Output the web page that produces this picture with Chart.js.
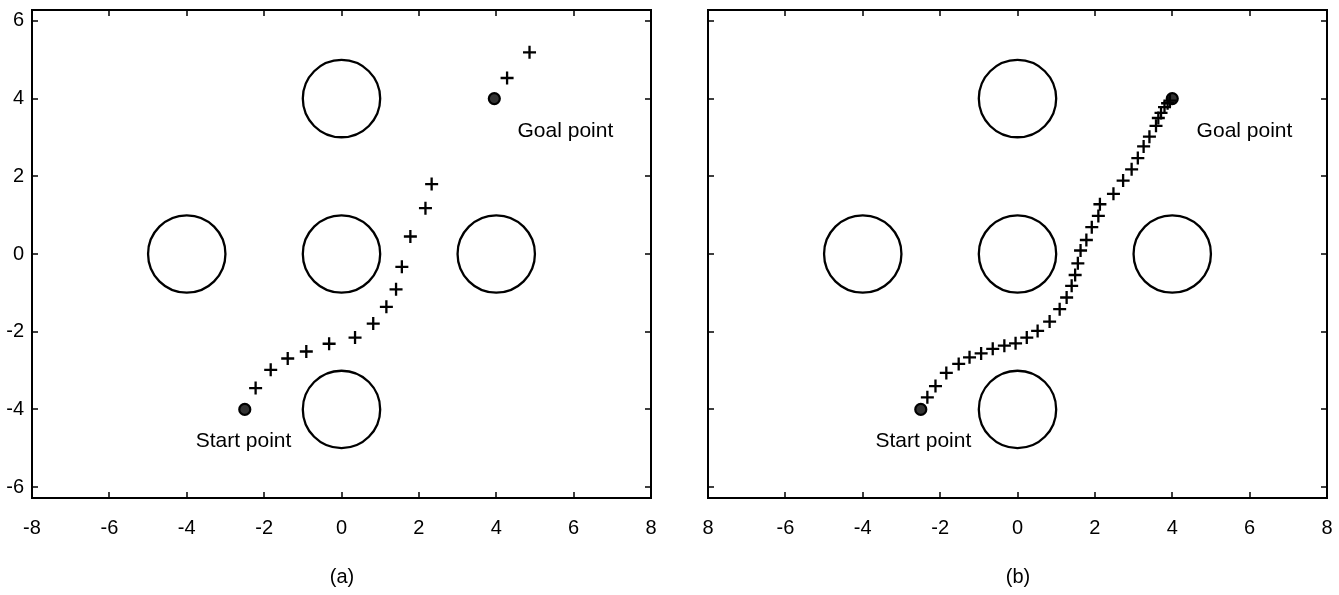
<!DOCTYPE html>
<html>
<head>
<meta charset="utf-8">
<script src="https://cdn.jsdelivr.net/npm/chart.js@4.4.1/dist/chart.umd.min.js"></script>
<style>
  html, body { margin: 0; padding: 0; background: #fff; }
  body { width: 1339px; height: 595px; position: relative; overflow: hidden; font-family: "Liberation Sans", Arial, sans-serif; }
  .panel { position: absolute; top: 0; height: 595px; }
  #panelA { left: 0; width: 680px; }
  #panelB { left: 680px; width: 659px; }
  .caption { position: absolute; top: 565px; font-size: 20px; color: #000; transform: translateX(-50%); }
</style>
</head>
<body>
<div class="panel" id="panelA"><canvas id="chartA" width="680" height="595"></canvas></div>
<div class="panel" id="panelB"><canvas id="chartB" width="659" height="595"></canvas></div>
<div class="caption" style="left:342px">(a)</div>
<div class="caption" style="left:1018px">(b)</div>
<script>
// axis ticks
const xTicks = [-8, -6, -4, -2, 0, 2, 4, 6, 8];
const xTickLabelsA = ['-8', '-6', '-4', '-2', '0', '2', '4', '6', '8'];
const xTickLabelsB = ['8', '-6', '-4', '-2', '0', '2', '4', '6', '8'];
const yTicks = [-6, -4, -2, 0, 2, 4, 6];
const yTickLabels = ['-6', '-4', '-2', '0', '2', '4', '6'];

// obstacles (centre + radius)
const obstacleX = [0, -4, 0, 4, 0];
const obstacleY = [4, 0, 0, 0, -4];
const obstacleR = [1, 1, 1, 1, 1];

// start / goal
const startPoint = [-2.5, -4];
const goalPointA = [3.95, 4];
const goalPointB = [4, 4];

// path (a)
const pathAX = [-2.22, -1.83, -1.39, -0.91, -0.32, 0.35, 0.82, 1.16, 1.41, 1.56, 1.78, 2.17, 2.33, 4.28, 4.86];
const pathAY = [-3.45, -2.98, -2.69, -2.51, -2.31, -2.15, -1.79, -1.36, -0.91, -0.33, 0.45, 1.18, 1.80, 4.53, 5.19];

// path (b)
const pathBX = [-2.33, -2.12, -1.84, -1.52, -1.24, -0.94, -0.64, -0.34, -0.05, 0.24, 0.52, 0.83, 1.09, 1.27, 1.40, 1.49, 1.56, 1.63, 1.78, 1.92, 2.09, 2.13, 2.48, 2.73, 2.95, 3.11, 3.26, 3.41, 3.58, 3.64, 3.71, 3.80, 3.88, 3.94];
const pathBY = [-3.69, -3.40, -3.06, -2.83, -2.66, -2.56, -2.44, -2.36, -2.30, -2.15, -1.98, -1.74, -1.42, -1.12, -0.82, -0.54, -0.24, 0.09, 0.36, 0.69, 0.98, 1.28, 1.55, 1.89, 2.18, 2.47, 2.77, 3.02, 3.30, 3.50, 3.63, 3.78, 3.88, 3.95];

const FONT = '"Liberation Sans", Arial, sans-serif';

// obstacles drawn as circles in data units
const obstaclePlugin = {
  id: 'obstacles',
  beforeDatasetsDraw(chart) {
    const {ctx, scales: {x, y}} = chart;
    ctx.save();
    ctx.strokeStyle = '#000';
    ctx.lineWidth = 2.3;
    obstacleX.forEach((cx, i) => {
      const px = x.getPixelForValue(cx);
      const py = y.getPixelForValue(obstacleY[i]);
      const r = x.getPixelForValue(cx + obstacleR[i]) - px;
      ctx.beginPath();
      ctx.arc(px, py, r, 0, Math.PI * 2);
      ctx.stroke();
    });
    ctx.restore();
  }
};

// box with inward ticks on all four sides + point labels
const framePlugin = {
  id: 'frame',
  afterDatasetsDraw(chart, args, opts) {
    const {ctx, chartArea: a, scales: {x, y}} = chart;
    ctx.save();
    ctx.strokeStyle = '#000';
    ctx.lineWidth = 2;
    ctx.strokeRect(a.left, a.top, a.right - a.left, a.bottom - a.top);
    ctx.lineWidth = 1.5;
    const len = 6;
    ctx.beginPath();
    xTicks.forEach(v => {
      const px = Math.round(x.getPixelForValue(v));
      ctx.moveTo(px, a.bottom); ctx.lineTo(px, a.bottom - len);
      ctx.moveTo(px, a.top); ctx.lineTo(px, a.top + len);
    });
    yTicks.forEach(v => {
      const py = Math.round(y.getPixelForValue(v));
      ctx.moveTo(a.left, py); ctx.lineTo(a.left + len, py);
      ctx.moveTo(a.right, py); ctx.lineTo(a.right - len, py);
    });
    ctx.stroke();

    ctx.fillStyle = '#000';
    ctx.font = '21px ' + FONT;
    ctx.textAlign = 'left';
    ctx.textBaseline = 'middle';
    (opts.notes || []).forEach(n => {
      ctx.fillText(n.text, x.getPixelForValue(n.x), y.getPixelForValue(n.y));
    });
    ctx.restore();
  }
};

function makeChart(id, pathX, pathY, goal, tickLabels, showY, yWidth, padRight, notes) {
  const path = pathX.map((v, i) => ({x: v, y: pathY[i]}));
  const ends = [{x: startPoint[0], y: startPoint[1]}, {x: goal[0], y: goal[1]}];
  return new Chart(document.getElementById(id), {
    type: 'scatter',
    data: {
      datasets: [
        {
          data: path,
          showLine: false,
          pointStyle: 'cross',
          pointRadius: 6.5,
          borderColor: '#000',
          borderWidth: 2.3
        },
        {
          data: ends,
          showLine: false,
          pointStyle: 'circle',
          pointRadius: 5.5,
          backgroundColor: '#333',
          borderColor: '#000',
          borderWidth: 2.2
        },
        {
          data: ends,
          showLine: false,
          pointStyle: 'cross',
          pointRadius: 3,
          borderColor: '#000',
          borderWidth: 1.5
        }
      ]
    },
    options: {
      responsive: false,
      animation: false,
      events: [],
      layout: {padding: {top: 10, right: padRight, left: 0, bottom: 0}},
      plugins: {
        legend: {display: false},
        tooltip: {enabled: false},
        frame: {notes: notes}
      },
      scales: {
        x: {
          type: 'linear',
          min: -8,
          max: 8,
          grid: {display: false, drawTicks: false},
          border: {display: false},
          afterBuildTicks: s => { s.ticks = xTicks.map(v => ({value: v})); },
          afterFit: s => { s.height = 97; s.paddingLeft = 0; s.paddingRight = 0; },
          ticks: {
            padding: 18,
            color: '#000',
            maxRotation: 0,
            autoSkip: false,
            font: {family: FONT, size: 20},
            callback: (v, i) => tickLabels[i]
          }
        },
        y: {
          type: 'linear',
          min: -6.28,
          max: 6.28,
          grid: {display: false, drawTicks: false},
          border: {display: false},
          afterBuildTicks: s => { s.ticks = yTicks.map(v => ({value: v})); },
          afterFit: s => { s.width = yWidth; s.paddingTop = 0; s.paddingBottom = 0; },
          ticks: {
            display: showY,
            padding: 8,
            color: '#000',
            autoSkip: false,
            font: {family: FONT, size: 20},
            callback: (v, i) => yTickLabels[i]
          }
        }
      }
    },
    plugins: [obstaclePlugin, framePlugin]
  });
}

makeChart('chartA', pathAX, pathAY, goalPointA, xTickLabelsA, true, 32, 29, [
  {text: 'Goal point', x: 4.55, y: 3.17},
  {text: 'Start point', x: -3.77, y: -4.82}
]);
makeChart('chartB', pathBX, pathBY, goalPointB, xTickLabelsB, false, 28, 12, [
  {text: 'Goal point', x: 4.63, y: 3.17},
  {text: 'Start point', x: -3.67, y: -4.82}
]);
</script>
</body>
</html>
